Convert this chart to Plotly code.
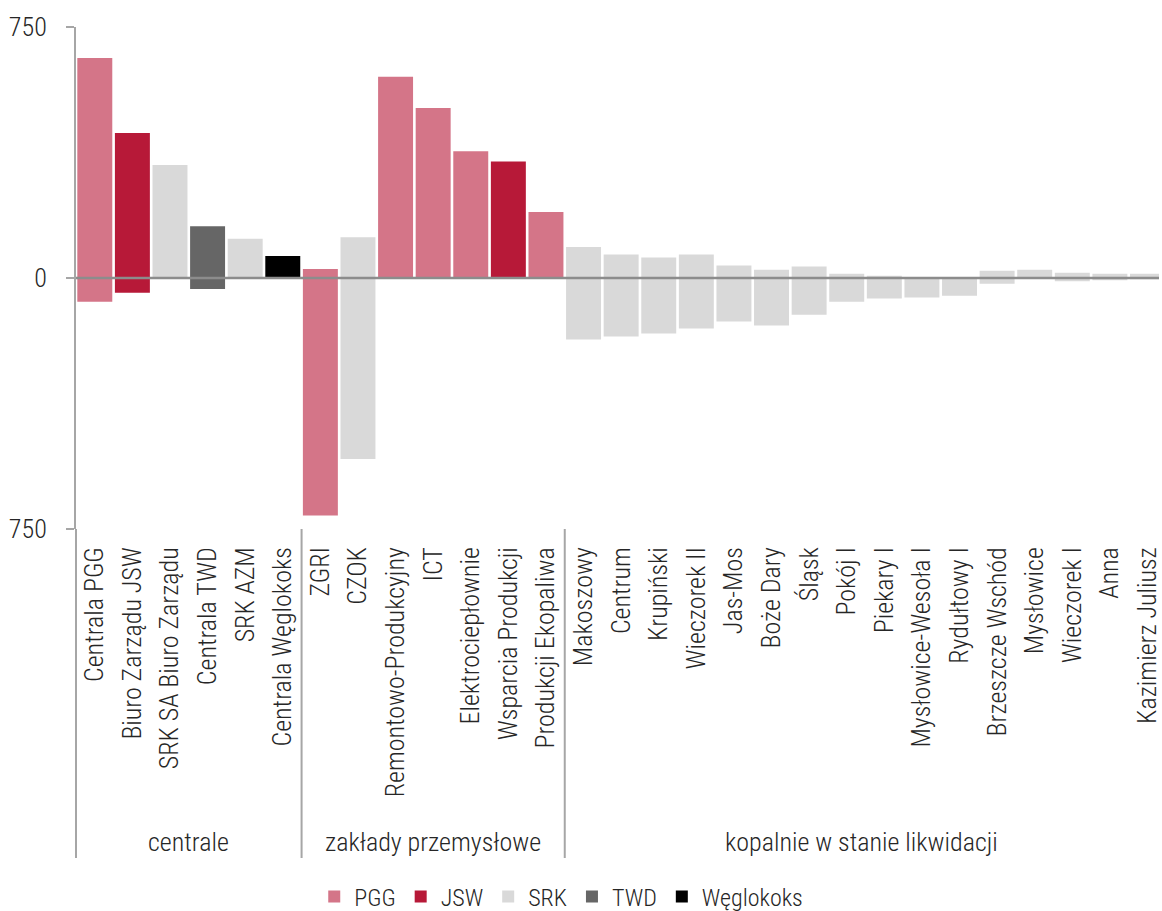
import plotly.graph_objects as go

categories = ["Centrala PGG", "Biuro Zarządu JSW", "SRK SA Biuro Zarządu", "Centrala TWD", "SRK AZM",
              "Centrala Węglokoks", "ZGRI", "CZOK", "Remontowo-Produkcyjny", "ICT", "Elektrociepłownie",
              "Wsparcia Produkcji", "Produkcji Ekopaliwa", "Makoszowy", "Centrum", "Krupiński",
              "Wieczorek II", "Jas-Mos", "Boże Dary", "Śląsk", "Pokój I", "Piekary I",
              "Mysłowice-Wesoła I", "Rydułtowy I", "Brzeszcze Wschód", "Mysłowice", "Wieczorek I",
              "Anna", "Kazimierz Juliusz"]
groups = ["centrale"] * 6 + ["zakłady przemysłowe"] * 7 + ["kopalnie w stanie likwidacji"] * 16
companies = ["PGG", "JSW", "SRK", "TWD", "SRK", "Węglokoks",
             "PGG", "SRK", "PGG", "PGG", "PGG", "JSW", "PGG",
             "SRK", "SRK", "SRK", "SRK", "SRK", "SRK", "SRK", "SRK", "SRK", "SRK", "SRK",
             "SRK", "SRK", "SRK", "SRK", "SRK"]
low_values = [-71, -44, 0, -33, 0, 0,
              -710, -541, 0, -3, 0, 0, 0,
              -184, -175, -166, -151, -130, -142, -110, -71, -61, -58, -53, -17, 0, -10, -7, -4]
high_values = [657, 433, 338, 155, 117, 66,
               27, 122, 601, 508, 379, 348, 197,
               93, 70, 61, 70, 37, 25, 34, 13, 7, 1, 3, 22, 25, 16, 13, 13]
legend_order = ["PGG", "JSW", "SRK", "TWD", "Węglokoks"]
colors = {"PGG": "#D47588", "JSW": "#B71938", "SRK": "#D9D9D9", "TWD": "#666666", "Węglokoks": "#000000"}
y_ticks = [-750, 0, 750]
y_tick_labels = ["750", "0", "750"]

FONT = "Roboto Condensed, Liberation Sans Narrow, DejaVu Sans Condensed, Roboto, sans-serif"
TXT = "#262626"

fig = go.Figure()
for comp in legend_order:
    idx = [i for i, c in enumerate(companies) if c == comp]
    fig.add_trace(go.Bar(
        x=idx,
        y=[high_values[i] - low_values[i] for i in idx],
        base=[low_values[i] for i in idx],
        name=comp,
        marker=dict(color=colors[comp], line=dict(width=0)),
        width=0.93,
    ))

n = len(categories)
x_end = 28.306
fig.update_layout(
    width=1162, height=911,
    barmode="overlay",
    plot_bgcolor="white", paper_bgcolor="white",
    margin=dict(l=76, r=0, t=27, b=382),
    font=dict(family=FONT, size=26, color=TXT, weight=300),
    showlegend=True,
    legend=dict(orientation="h", x=0.483, xanchor="center", xref="container",
                y=0.0154, yanchor="middle", yref="container",
                font=dict(family=FONT, size=24, color=TXT, weight=300),
                itemwidth=30, traceorder="normal"),
    xaxis=dict(
        range=[-0.5, x_end],
        tickvals=list(range(n)), ticktext=categories,
        tickangle=-90, showgrid=False, zeroline=False, showline=False,
        ticks="", ticklabelstandoff=12, ticklabeloverflow="allow",
        tickfont=dict(family=FONT, size=26, color=TXT, weight=300),
    ),
    yaxis=dict(
        range=[-750, 750], tickvals=y_ticks, ticktext=y_tick_labels,
        showgrid=False, zeroline=False,
        showline=True, linecolor="#A6A6A6", linewidth=2,
        ticks="outside", ticklen=8, tickcolor="#A6A6A6", tickwidth=2,
        ticklabelstandoff=14,
        tickfont=dict(family=FONT, size=26, color=TXT, weight=300),
    ),
)

# category axis line at zero, drawn above the bars
fig.add_shape(type="line", xref="paper", yref="y", x0=0, x1=1, y0=0, y1=0,
              line=dict(color="#8C8C8C", width=2.5), layer="above")

bottom = -329 / 502
# extension of y axis line and group dividers
fig.add_shape(type="line", xref="paper", yref="paper", x0=0, x1=0, y0=0, y1=bottom,
              line=dict(color="#A6A6A6", width=2))
gstarts = [0]
for i in range(1, n):
    if groups[i] != groups[i - 1]:
        gstarts.append(i)
        fig.add_shape(type="line", xref="x", yref="paper", x0=i - 0.5, x1=i - 0.5, y0=0, y1=bottom,
                      line=dict(color="#A6A6A6", width=2))
gends = gstarts[1:] + [None]
for s, e in zip(gstarts, gends):
    left = s - 0.5
    right = (e - 0.5) if e is not None else x_end
    fig.add_annotation(x=(left + right) / 2, xref="x", y=-313 / 502, yref="paper",
                       text=groups[s], showarrow=False, yanchor="middle",
                       font=dict(family=FONT, size=26, color=TXT, weight=300))

fig.write_html("out.html")
